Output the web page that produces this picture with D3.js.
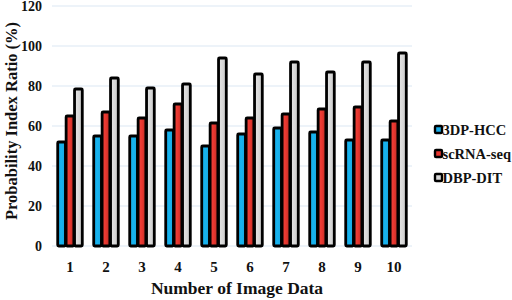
<!DOCTYPE html>
<html><head><meta charset="utf-8">
<script src="https://cdn.jsdelivr.net/npm/d3@7/dist/d3.min.js"></script>
<style>body{margin:0;background:#fff}svg{display:block}text{font-family:"Liberation Serif",serif;font-weight:bold;fill:#111}</style>
</head><body><svg id="c" width="512" height="300"></svg>
<script>
const categories = ["1","2","3","4","5","6","7","8","9","10"];
const seriesNames = ["3DP-HCC","scRNA-seq","DBP-DIT"];
const hcc = [52, 55, 55, 58, 50, 56, 59, 57, 53, 53];
const scrna = [65, 67, 64, 71, 61.5, 64, 66, 68.5, 69.5, 62.5];
const dbp = [78.5, 84, 79, 81, 94, 86, 92, 87, 92, 96.5];
const yTicks = [0, 20, 40, 60, 80, 100, 120];
const colors = ["#19aee9", "#e8362f", "#d9d9d9"];

const svg = d3.select("#c");
const m = {l:52, r:100, t:6, b:54};
const W = 512, H = 300;
const x = d3.scaleBand().domain(categories).range([m.l, W - m.r]).paddingInner(0.28).paddingOuter(0.14);
const xs = d3.scaleBand().domain(seriesNames).range([0, x.bandwidth()]).padding(0.08);
const y = d3.scaleLinear().domain([0, 120]).range([H - m.b, m.t]);

const defs = svg.append("defs");
const grads = [["#19aee9","#17b3ee","#1aa6de"],["#f0463c","#e8362f","#b92e24"],["#e6e6e6","#d9d9d9","#c8c8c8"]];
grads.forEach((g,i)=>{
  const lg = defs.append("linearGradient").attr("id","g"+i).attr("x1","0").attr("x2","1").attr("y1","0").attr("y2","0");
  lg.append("stop").attr("offset","0").attr("stop-color",g[0]);
  lg.append("stop").attr("offset","0.5").attr("stop-color",g[1]);
  lg.append("stop").attr("offset","1").attr("stop-color",g[2]);
});

// gridlines
svg.append("g").selectAll("line").data(yTicks).join("line")
  .attr("x1", m.l).attr("x2", W - m.r).attr("y1", d=>y(d)).attr("y2", d=>y(d))
  .attr("stroke", "#dce8f4").attr("stroke-width", 1.2);

// y axis
const ya = svg.append("g").attr("transform", `translate(${m.l},0)`)
  .call(d3.axisLeft(y).tickValues(yTicks).tickSize(0).tickPadding(10));
ya.select(".domain").remove();
ya.attr("font-family", "Liberation Serif").attr("font-size", 14).attr("font-weight", "bold");
ya.selectAll("text").attr("fill","#111");

// x axis
const xa = svg.append("g").attr("transform", `translate(0,${y(0)})`)
  .call(d3.axisBottom(x).tickSize(0).tickPadding(15));
xa.select(".domain").remove();
xa.attr("font-family", "Liberation Serif").attr("font-size", 15).attr("font-weight", "bold");
xa.selectAll("text").attr("fill","#111");

const data = [hcc, scrna, dbp];
const gBars = svg.append("g");
categories.forEach((c, ci) => {
  seriesNames.forEach((s, si) => {
    gBars.append("rect")
      .attr("x", x(c) + xs(s)).attr("width", xs.bandwidth())
      .attr("y", y(data[si][ci])).attr("height", y(0) - y(data[si][ci]))
      .attr("fill", `url(#g${si})`).attr("stroke", "#000").attr("stroke-width", 2.8)
      .attr("rx", 1);
  });
});

// legend
const lg = svg.append("g").attr("transform", "translate(435,130)");
seriesNames.forEach((s, i) => {
  const row = lg.append("g").attr("transform", `translate(0,${i*24})`);
  row.append("rect").attr("x", 0).attr("y", -4).attr("width", 7).attr("height", 7)
    .attr("fill", colors[i]).attr("stroke", "#000").attr("stroke-width", 2.4).attr("rx", 1);
  row.append("text").attr("x", 7.5).attr("y", 0).attr("dy", "0.35em").style("font-size", "14.5px").text(s);
});

// titles
svg.append("text").attr("x", 237).attr("y", 294).attr("text-anchor", "middle").style("font-size", "17.5px").text("Number of Image Data");
svg.append("text").attr("transform", "translate(17,121) rotate(-90)").attr("text-anchor", "middle").style("font-size", "16.5px").text("Probability Index Ratio (%)");
</script></body></html>
